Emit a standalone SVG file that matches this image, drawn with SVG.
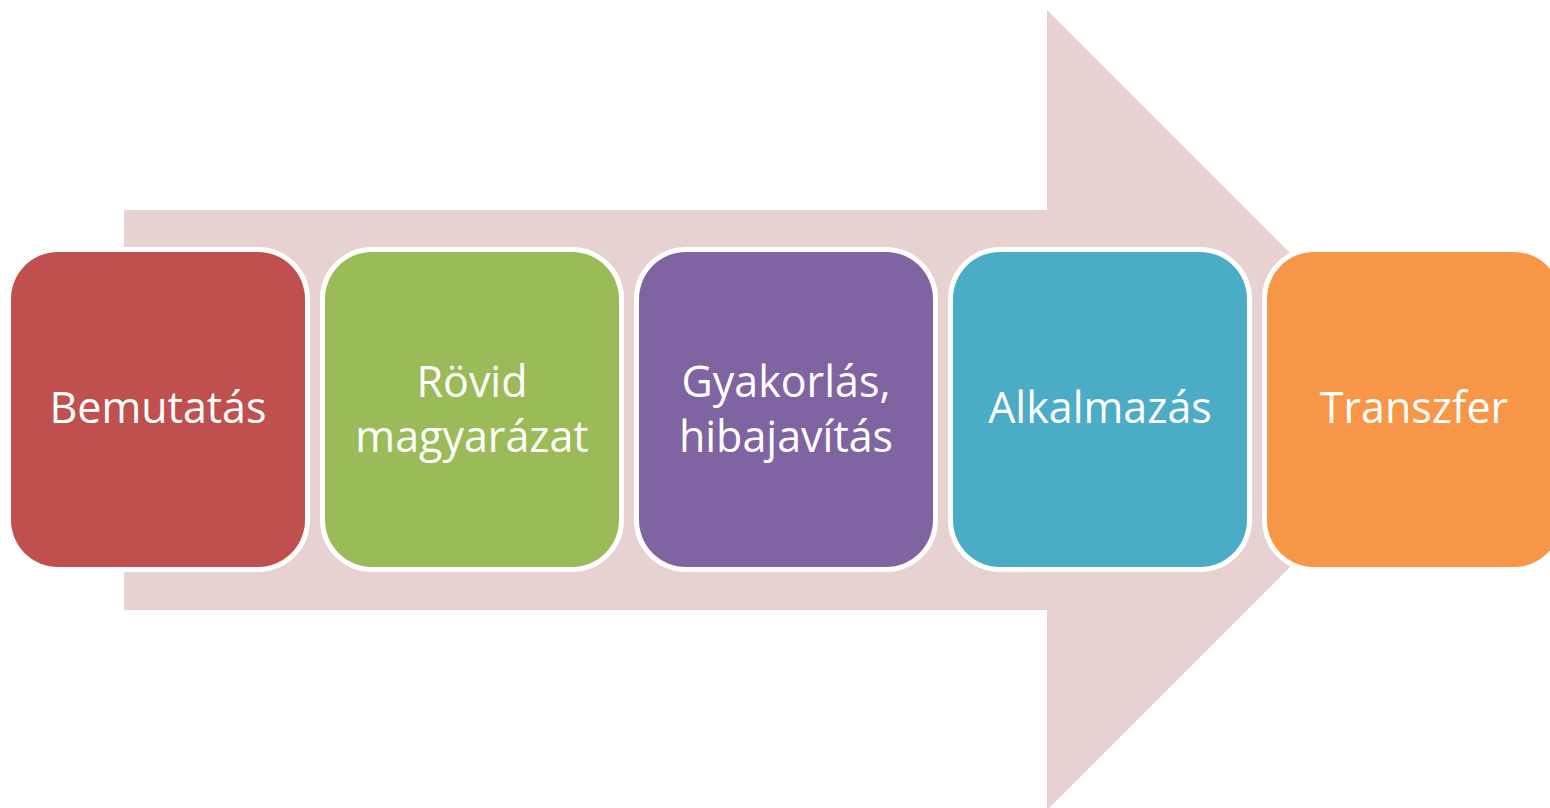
<svg xmlns="http://www.w3.org/2000/svg" width="1550" height="808" viewBox="0 0 1550 808">
<style>
.box{stroke:#FFFFFF;stroke-width:10;paint-order:stroke}
.lbl{font-family:"Open Sans","Liberation Sans",sans-serif;font-size:43px;fill:#FFFFFF;text-anchor:middle}
</style>
<rect width="1550" height="808" fill="#FFFFFF"/>
<g id="connectors">
<polygon id="arrow" points="124,210 1047,210 1047,10 1447,410 1047,810 1047,610 124,610" fill="#E8D1D1"/>
</g>
<g id="n1">
<rect class="box" x="11" y="252" width="294" height="315" rx="47" fill="#C0504D"/>
<text class="lbl" x="158" y="423">Bemutatás</text>
</g>
<g id="n2">
<rect class="box" x="325" y="252" width="294" height="315" rx="47" fill="#9BBB59"/>
<text class="lbl" x="472" y="397">Rövid</text>
<text class="lbl" x="472" y="452">magyarázat</text>
</g>
<g id="n3">
<rect class="box" x="639" y="252" width="294" height="315" rx="47" fill="#8064A2"/>
<text class="lbl" x="786" y="397">Gyakorlás,</text>
<text class="lbl" x="786" y="452">hibajavítás</text>
</g>
<g id="n4">
<rect class="box" x="953" y="252" width="294" height="315" rx="47" fill="#4BACC6"/>
<text class="lbl" x="1100" y="423">Alkalmazás</text>
</g>
<g id="n5">
<rect class="box" x="1267" y="252" width="294" height="315" rx="47" fill="#F79646"/>
<text class="lbl" x="1414" y="423">Transzfer</text>
</g>
</svg>
